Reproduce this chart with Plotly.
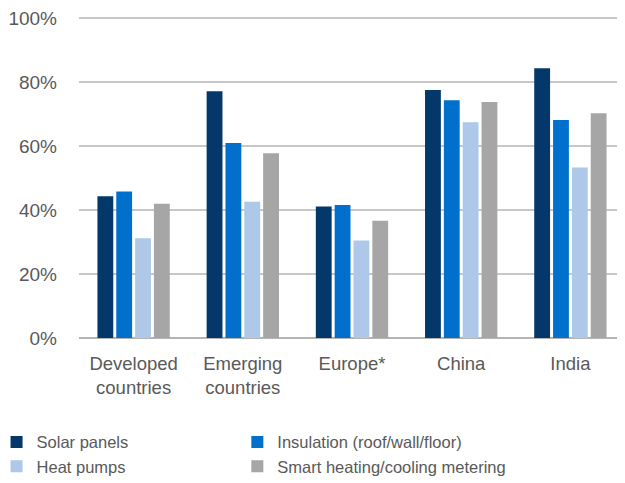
import plotly.graph_objects as go

categories = ["Developed<br>countries", "Emerging<br>countries", "Europe*", "China", "India"]
series_names = ["Solar panels", "Insulation (roof/wall/floor)", "Heat pumps", "Smart heating/cooling metering"]
solar = [44.3, 77.2, 41.1, 77.6, 84.4]
insulation = [45.8, 61.0, 41.6, 74.4, 68.2]
heat_pumps = [31.2, 42.6, 30.5, 67.5, 53.3]
smart = [42.0, 57.8, 36.7, 73.8, 70.3]
y_ticks = [0, 20, 40, 60, 80, 100]

colors = ["#04386a", "#0070cc", "#adc8e8", "#a6a6a6"]
legend_ids = ["legend", "legend2", "legend", "legend2"]
font_fam = "Liberation Sans, Arial, sans-serif"
txt = "#595959"

fig = go.Figure()
for name, vals, c, lg in zip(series_names, [solar, insulation, heat_pumps, smart], colors, legend_ids):
    fig.add_trace(go.Bar(x=categories, y=vals, name=name, legend=lg,
                         marker=dict(color=c, line=dict(width=0))))

leg_common = dict(orientation="v", xanchor="left", y=-0.27, yanchor="top",
                  font=dict(size=16.5, color=txt), traceorder="normal",
                  itemwidth=30, tracegroupgap=0, bgcolor="rgba(0,0,0,0)")

# page body adds an 8px offset, so the figure is sized/margined to compensate
fig.update_layout(
    width=617, height=475,
    margin=dict(l=71, r=0, t=9, b=145, autoexpand=False),
    plot_bgcolor="white", paper_bgcolor="white",
    barmode="group", bargap=0.31, bargroupgap=0.16,
    font=dict(family=font_fam, color=txt, size=17),
    showlegend=True,
    legend=dict(x=-0.151, **leg_common),
    legend2=dict(x=0.29, **leg_common),
)
fig.update_yaxes(range=[0, 100.4], tickvals=y_ticks, ticktext=[f"{v}%" for v in y_ticks],
                 showgrid=True, gridcolor="#c8c8c8", gridwidth=1.5,
                 zeroline=True, zerolinecolor="#b4b4b4", zerolinewidth=2,
                 showline=False, ticks="", ticklabelstandoff=21,
                 ticklabeloverflow="allow",
                 tickfont=dict(size=19, color=txt))
fig.update_xaxes(showline=False, ticks="", ticklabelstandoff=12,
                 tickfont=dict(size=18.5, color=txt))

fig.write_html("out.html")
